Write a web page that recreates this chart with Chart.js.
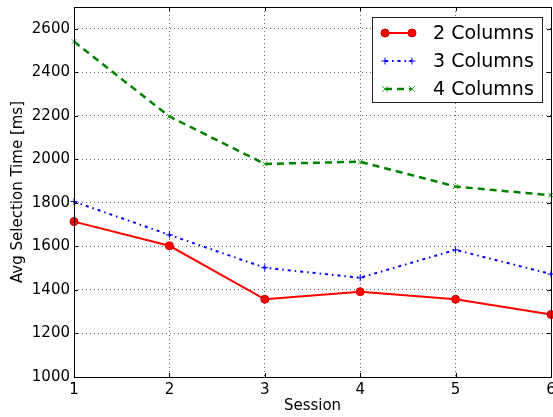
<!DOCTYPE html>
<html>
<head>
<meta charset="utf-8">
<script src="https://cdn.jsdelivr.net/npm/chart.js@4/dist/chart.umd.min.js"></script>
<style>
html,body{margin:0;padding:0;background:#fff;}
#wrap{width:553px;height:417px;position:relative;}
</style>
</head>
<body>
<div id="wrap"><canvas id="c" width="553" height="417"></canvas></div>
<script>
const sessions = [1, 2, 3, 4, 5, 6];
const yTicks = [1000, 1200, 1400, 1600, 1800, 2000, 2200, 2400, 2600];
const seriesLabels = ['2 Columns', '3 Columns', '4 Columns'];
const cols2 = [1714, 1603, 1357, 1392, 1357, 1287];
const cols3 = [1806, 1653, 1502, 1456, 1584, 1473];
const cols4 = [2541, 2197, 1979, 1989, 1875, 1835];
const xTitle = 'Session';
const yTitle = 'Avg Selection Time [ms]';

const FONT = '"DejaVu Sans", "Bitstream Vera Sans", sans-serif';

function pts(vals){ return sessions.map((s,i)=>({x:s, y:vals[i]})); }

const styles = [
  {color:'#ff0000', dash:[], width:2, pointStyle:'circle', radius:4, pointBg:'#ff0000', pointBorder:'#cc0000', pointBorderWidth:1},
  {color:'#0000ff', dash:[3,4,1.5,4], width:2, pointStyle:'cross', radius:3.5, pointBg:'#0000ff', pointBorder:'#0000ff', pointBorderWidth:1},
  {color:'#008000', dash:[7,5], width:2.5, pointStyle:'crossRot', radius:3.5, pointBg:'#008000', pointBorder:'#33aa33', pointBorderWidth:1}
];
const allVals = [cols2, cols3, cols4];

const datasets = allVals.map((v,i)=>({
  label: seriesLabels[i],
  data: pts(v),
  borderColor: styles[i].color,
  borderWidth: styles[i].width,
  borderDash: styles[i].dash,
  pointStyle: styles[i].pointStyle,
  pointRadius: styles[i].radius,
  pointBackgroundColor: styles[i].pointBg,
  pointBorderColor: styles[i].pointBorder,
  pointBorderWidth: styles[i].pointBorderWidth,
  fill: false,
  tension: 0,
  clip: false
}));

const PLOT_RIGHT = 551;

const framePlugin = {
  id: 'frame',
  afterLayout(chart){
    const a = chart.chartArea;
    a.right = PLOT_RIGHT; a.width = PLOT_RIGHT - a.left;
    const x = chart.scales.x;
    x.right = PLOT_RIGHT; x.width = PLOT_RIGHT - x.left;
    x.configure();
  },
  afterDatasetsDraw(chart){
    const {ctx, chartArea:a, scales} = chart;
    ctx.save();
    ctx.strokeStyle = '#000';
    ctx.lineWidth = 1;
    ctx.setLineDash([]);
    ctx.beginPath();
    yTicks.forEach(v=>{
      const y = Math.round(scales.y.getPixelForValue(v))+0.5;
      ctx.moveTo(a.left, y); ctx.lineTo(a.left+4, y);
      ctx.moveTo(a.right, y); ctx.lineTo(a.right-4, y);
    });
    sessions.forEach(v=>{
      const x = Math.round(scales.x.getPixelForValue(v))+0.5;
      ctx.moveTo(x, a.bottom); ctx.lineTo(x, a.bottom-4);
      ctx.moveTo(x, a.top); ctx.lineTo(x, a.top+4);
    });
    ctx.stroke();
    ctx.strokeRect(Math.round(a.left)+0.5, Math.round(a.top)+0.5, Math.round(a.right-a.left), Math.round(a.bottom-a.top));
    ctx.restore();
  },
  afterDraw(chart){
    const ctx = chart.ctx;
    const bx = 372.5, by = 17.5, bw = 170, bh = 85;
    ctx.save();
    ctx.fillStyle = '#fff';
    ctx.fillRect(bx, by, bw, bh);
    ctx.strokeStyle = '#222';
    ctx.lineWidth = 1;
    ctx.setLineDash([]);
    ctx.strokeRect(bx, by, bw, bh);
    const rows = [33, 61, 89];
    const x0 = 385, x1 = 412;
    chart.data.datasets.forEach((ds, i)=>{
      const y = rows[i];
      ctx.save();
      ctx.strokeStyle = ds.borderColor;
      ctx.lineWidth = ds.borderWidth;
      ctx.setLineDash(ds.borderDash);
      ctx.beginPath(); ctx.moveTo(x0, y); ctx.lineTo(x1, y); ctx.stroke();
      ctx.restore();
      [x0, x1].forEach(px=>{
        ctx.fillStyle = ds.pointBackgroundColor;
        ctx.strokeStyle = ds.pointBorderColor;
        ctx.lineWidth = ds.pointBorderWidth;
        ctx.setLineDash([]);
        ctx.beginPath();
        if (ds.pointStyle === 'circle'){
          ctx.arc(px, y, ds.pointRadius, 0, Math.PI*2); ctx.fill(); ctx.stroke();
        } else if (ds.pointStyle === 'cross'){
          const r = ds.pointRadius;
          ctx.moveTo(px-r, y); ctx.lineTo(px+r, y); ctx.moveTo(px, y-r); ctx.lineTo(px, y+r); ctx.stroke();
        } else {
          const r = ds.pointRadius*0.8;
          ctx.moveTo(px-r, y-r); ctx.lineTo(px+r, y+r); ctx.moveTo(px-r, y+r); ctx.lineTo(px+r, y-r); ctx.stroke();
        }
      });
      ctx.fillStyle = '#000';
      ctx.font = '19px ' + FONT;
      ctx.textAlign = 'left';
      ctx.textBaseline = 'middle';
      ctx.fillText(ds.label, 433, y + 1);
    });
    ctx.restore();
  }
};

new Chart(document.getElementById('c'), {
  type: 'line',
  data: { datasets },
  options: {
    responsive: false,
    animation: false,
    devicePixelRatio: 1,
    layout: { padding: { left: 0, top: 7, right: 2, bottom: 0 } },
    plugins: { legend: { display: false }, tooltip: { enabled: false } },
    scales: {
      x: {
        type: 'linear',
        min: sessions[0], max: sessions[sessions.length-1],
        afterBuildTicks: s => { s.ticks = sessions.map(v=>({value:v})); },
        afterFit: s => { s.height = 40; s.paddingLeft = 0; s.paddingRight = 0; },
        border: { display: false, dash: [1,3] },
        grid: { color: 'rgba(0,0,0,0.6)', lineWidth: 1, drawTicks: false },
        ticks: { color: '#000', font: { family: FONT, size: 15 }, padding: 4, maxRotation: 0, autoSkip: false,
                 callback: v => String(v) },
        title: { display: true, text: xTitle, color: '#000', font: { family: FONT, size: 15 }, padding: { top: 0, bottom: 2 } }
      },
      y: {
        type: 'linear',
        min: 1000, max: 2700,
        afterBuildTicks: s => { s.ticks = yTicks.map(v=>({value:v})); },
        afterFit: s => { s.width = 74; s.paddingTop = 0; s.paddingBottom = 0; },
        border: { display: false, dash: [1,3] },
        grid: { color: 'rgba(0,0,0,0.6)', lineWidth: 1, drawTicks: false },
        ticks: { color: '#000', font: { family: FONT, size: 15 }, padding: 4, autoSkip: false,
                 callback: v => String(v) },
        title: { display: true, text: yTitle, color: '#000', font: { family: FONT, size: 15 }, padding: { top: 9, bottom: 0 } }
      }
    }
  },
  plugins: [framePlugin]
});
</script>
</body>
</html>
